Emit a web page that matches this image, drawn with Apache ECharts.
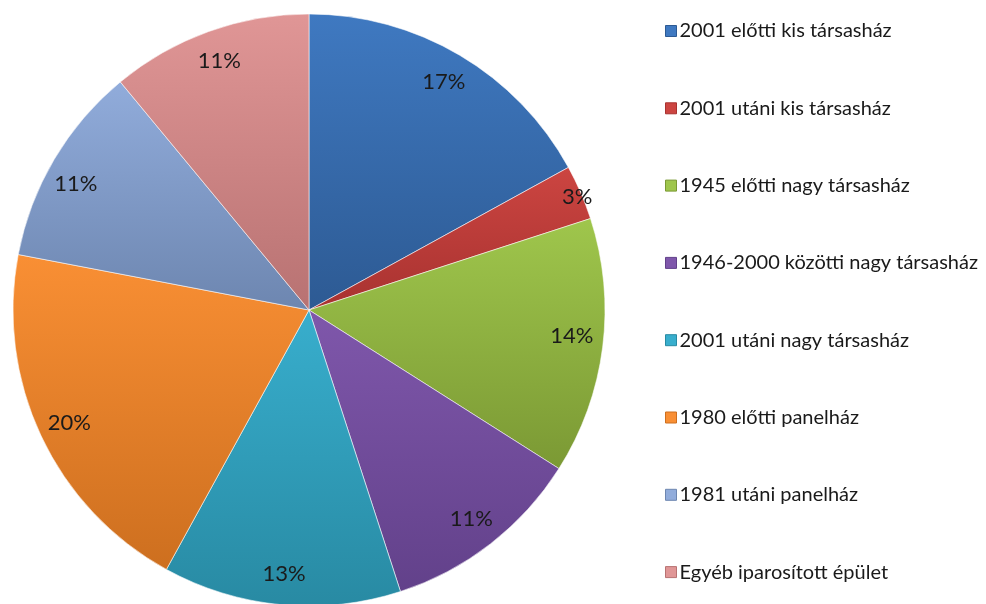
<!DOCTYPE html>
<html><head><meta charset="utf-8">
<script src="https://cdn.jsdelivr.net/npm/echarts@6/dist/echarts.min.js"></script>
<style>html,body{margin:0;padding:0;background:#fff}#c{width:986px;height:604px}</style>
</head><body><div id="c"></div>
<script>
const categories = ["2001 előtti kis társasház","2001 utáni kis társasház","1945 előtti nagy társasház","1946-2000 közötti nagy társasház","2001 utáni nagy társasház","1980 előtti panelház","1981 utáni panelház","Egyéb iparosított épület"];
const values = [17, 3, 14, 11, 13, 20, 11, 11];
const topColors = ["#3f79c1","#cc4541","#9fc64c","#7f57ab","#38aecd","#f98f34","#91acdb","#e09696"];
const bottomColors = ["#2d5a93","#a83230","#7b9934","#62418a","#288aa3","#cd6f1f","#6d86b0","#b87272"];
const labelOffsets = {1: [25, -8], 2: [0, -7], 6: [-5, 9]};

const chart = echarts.init(document.getElementById('c'), null, {renderer:'canvas'});
const font = 'Lato, "Open Sans", sans-serif';
const fill = (i) => new echarts.graphic.LinearGradient(0,0,0,1,[{offset:0,color:topColors[i]},{offset:1,color:bottomColors[i]}]);
chart.setOption({
  animation:false,
  legend:{
    orient:'vertical', left:660, top:16, itemGap:57.3, itemWidth:11, itemHeight:11, icon:'rect',
    textStyle:{fontFamily:font, fontSize:20, color:'#1a1a1a', padding:[0,0,0,-2]},
    data:categories.map((c,i)=>({name:c, itemStyle:{color:topColors[i], borderColor:bottomColors[i], borderWidth:1}}))
  },
  series:[{
    type:'pie', center:[309,310], radius:[0,296], startAngle:90, clockwise:true,
    label:{show:false}, labelLine:{show:false}, emphasis:{disabled:true},
    itemStyle:{borderColor:'rgba(255,255,255,0.55)', borderWidth:1},
    data:categories.map((c,i)=>({name:c, value:values[i], itemStyle:{color:fill(i)}}))
  },{
    type:'pie', center:[309,310], radius:[228,296], startAngle:90, clockwise:true, silent:true,
    legendHoverLink:false,
    label:{show:true, position:'inside', formatter:'{d}%', fontFamily:font, fontSize:22, color:'#1a1a1a'},
    labelLine:{show:false}, emphasis:{disabled:true},
    itemStyle:{color:'rgba(0,0,0,0)', borderWidth:0},
    data:categories.map((c,i)=>({name:c+' ', value:values[i], label: labelOffsets[i] ? {offset:labelOffsets[i]} : {}}))
  }]
});
</script></body></html>
